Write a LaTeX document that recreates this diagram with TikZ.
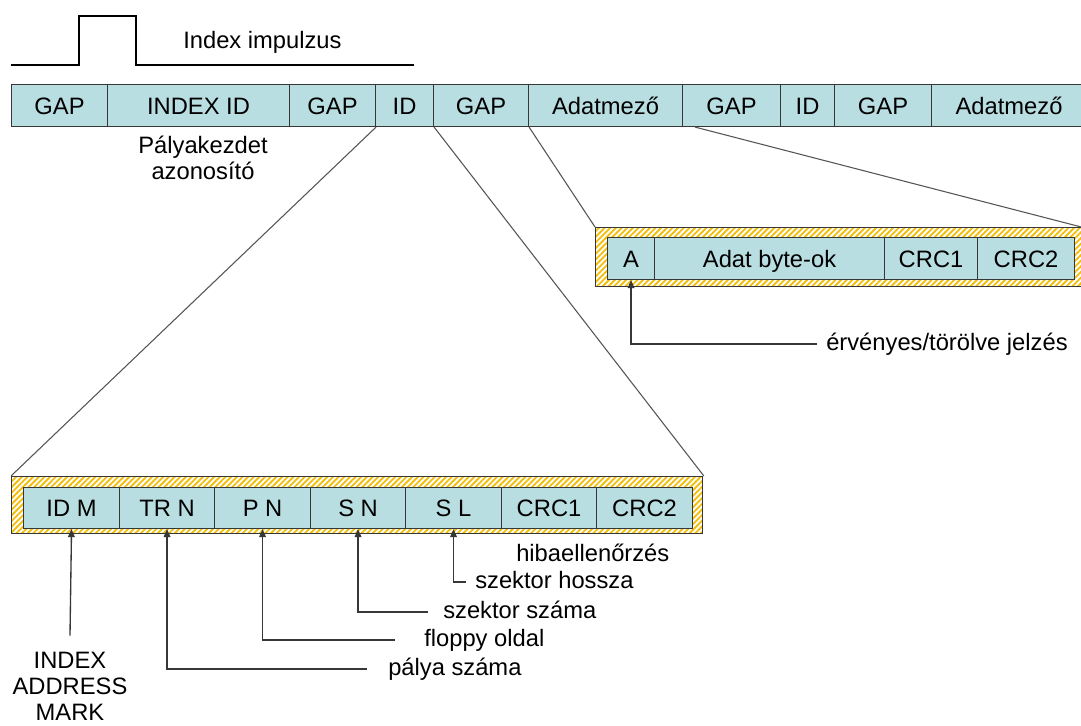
\documentclass[tikz,border=0pt]{standalone}
\usepackage{fontspec}
\setmainfont{Liberation Sans}
\usetikzlibrary{arrows.meta,patterns.meta,calc}

\definecolor{cellfill}{RGB}{185,222,226}
\definecolor{cellline}{RGB}{55,55,55}
\definecolor{hatchgold}{RGB}{242,190,10}
\definecolor{linkgray}{RGB}{85,85,85}

% \cellat{name}{x left}{x right}{y top}{y bottom}{text}
\newcommand{\cellat}[6]{%
  \node[fieldcell, minimum width={(#3-#2)*0.75pt}, minimum height={(#5-#4)*0.75pt},
        anchor=north west] (#1) at (#2,#4) {#6};}

\begin{document}
\begin{tikzpicture}[x=0.75pt,y=-0.75pt,
  every node/.style={font=\fontsize{17.8}{19.5}\selectfont},
  fieldcell/.style={draw=cellline, line width=0.8pt, fill=cellfill, inner sep=0pt,
                    text height=12.7pt, text depth=0pt},
  hatchframe/.style={draw=cellline, line width=0.7pt, inner sep=0pt,
                     pattern={Lines[angle=45,distance=3pt,line width=1.4pt]},
                     pattern color=hatchgold},
  zoomline/.style={draw=linkgray, line width=0.8pt},
  pointer/.style={draw=cellline, line width=1pt, {Triangle[width=5pt,length=6pt]}-},
  note/.style={anchor=west, inner sep=0pt, text height=12.7pt, text depth=3.7pt},
  pulse/.style={draw=black, line width=2.1pt}]

\useasboundingbox (0,0) rectangle (1081,725);
\fill[white] (0,0) rectangle (1081,725);

% index pulse
\draw[pulse] (11,65) -- (79,65) -- (79,16) -- (136,16) -- (136,65) -- (414,65);
\node[anchor=west, inner sep=0pt] (pulselabel) at (183,42) {Index impulzus};

% track layout
\cellat{t1}{11}{107}{84}{126}{GAP}
\cellat{t2}{107}{289}{84}{126}{INDEX ID}
\cellat{t3}{289}{375}{84}{126}{GAP}
\cellat{t4}{375}{433}{84}{126}{ID}
\cellat{t5}{433}{528}{84}{126}{GAP}
\cellat{t6}{528}{682}{84}{126}{Adatmező}
\cellat{t7}{682}{780}{84}{126}{GAP}
\cellat{t8}{780}{834}{84}{126}{ID}
\cellat{t9}{834}{931}{84}{126}{GAP}
\cellat{t10}{931}{1086}{84}{126}{Adatmező}

\node[align=center, inner sep=0pt] (trackstart) at (203,158) {Pályakezdet\\azonosító};

% expanded ID field
\node[hatchframe, minimum width={691*0.75pt}, minimum height={57*0.75pt},
      anchor=north west] (idframe) at (11,476) {};
\cellat{idm}{23}{119}{487}{528}{ID M}
\cellat{trn}{119}{214}{487}{528}{TR N}
\cellat{pn}{214}{310}{487}{528}{P N}
\cellat{sn}{310}{405}{487}{528}{S N}
\cellat{sl}{405}{501}{487}{528}{S L}
\cellat{crca}{501}{596}{487}{528}{CRC1}
\cellat{crcb}{596}{692}{487}{528}{CRC2}

% expanded data field
\node[hatchframe, minimum width={488*0.75pt}, minimum height={59*0.75pt},
      anchor=north west] (dataframe) at (595,227) {};
\cellat{amark}{607}{654}{237}{279}{A}
\cellat{bytes}{654}{884}{237}{279}{Adat byte-ok}
\cellat{dcrca}{884}{977}{237}{279}{CRC1}
\cellat{dcrcb}{977}{1074}{237}{279}{CRC2}

% zoom lines
\draw[zoomline] (t3.south east) -- (idframe.north west);
\draw[zoomline] (t4.south east) -- (idframe.north east);
\draw[zoomline] (t5.south east) -- (dataframe.north west);
\draw[zoomline] ($(t7.south west)+(13,0)$) -- ([xshift=-2pt]dataframe.north east);

% field descriptions
\node[note] (anote) at (826,344) {érvényes/törölve jelzés};
\node[note] (hibnote) at (516,555) {hibaellenőrzés};
\node[note] (slnote) at (475,582) {szektor hossza};
\node[note] (snnote) at (443,612) {szektor száma};
\node[note] (pnnote) at (424,640) {floppy oldal};
\node[note] (trnnote) at (388,669) {pálya száma};
\node[align=center, inner sep=0pt] (idmnote) at (70,686) {INDEX\\ADDRESS\\MARK};

\draw[pointer] (amark.south) |- ([xshift=-7pt]anote.west);
\draw[pointer] (sl.south) |- ([xshift=-7pt]slnote.west);
\draw[pointer] (sn.south) |- ([xshift=-11pt]snnote.west);
\draw[pointer] (pn.south) |- ([xshift=-22pt]pnnote.west);
\draw[pointer] (trn.south) |- ([xshift=-16pt]trnnote.west);
\draw[pointer] (idm.south) -- ([yshift=12pt]idmnote.north);

\end{tikzpicture}
\end{document}
